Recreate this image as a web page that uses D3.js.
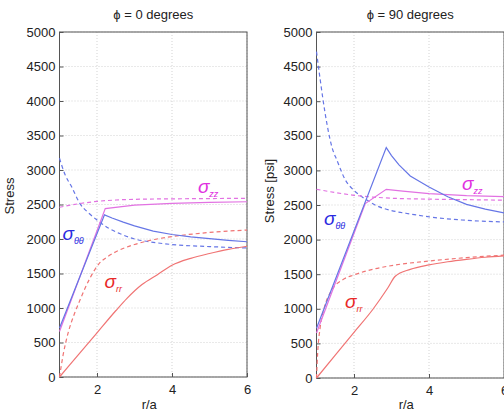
<!DOCTYPE html>
<html>
<head>
<meta charset="utf-8">
<script src="https://cdn.jsdelivr.net/npm/d3@7"></script>
<style>
  body { margin: 0; background: #fff; }
  text { font-family: "Liberation Sans", Arial, sans-serif; fill: #222; }
</style>
</head>
<body>
<svg id="chart" width="504" height="413"></svg>
<script>
// axis ticks
const rTicks = [2, 4, 6];
const stressTicks = [0, 500, 1000, 1500, 2000, 2500, 3000, 3500, 4000, 4500, 5000];

// phi = 0 degrees, [r/a, stress]
const p0_thetaElastic = [[1,3170],[1.15,2930],[1.32,2760],[1.55,2510],[1.75,2390],[2,2275],[2.3,2160],[2.6,2080],[3,2000],[3.4,1960],[4,1920],[5,1890],[6,1870]];
const p0_thetaPlastic = [[1,710],[2.2,2350],[2.4,2305],[2.7,2245],[3,2190],[3.5,2115],[4,2065],[4.5,2030],[5,2005],[5.5,1980],[6,1960]];
const p0_zzElastic    = [[1,2460],[1.5,2510],[2,2545],[2.5,2565],[3,2575],[4,2582],[5,2586],[6,2590]];
const p0_zzPlastic    = [[1,660],[2.22,2440],[3,2490],[4,2515],[5,2530],[6,2540]];
const p0_rrElastic    = [[1,0],[1.1,330],[1.23,640],[1.4,920],[1.55,1120],[1.8,1420],[2.05,1640],[2.3,1750],[2.6,1840],[3,1920],[3.5,1990],[4,2035],[5,2095],[6,2130]];
const p0_rrPlastic    = [[1,0],[1.5,320],[2,640],[2.5,960],[2.8,1140],[3.2,1340],[3.6,1480],[4,1620],[4.5,1720],[5,1790],[5.5,1850],[6,1895]];

// phi = 90 degrees
const p90_thetaElastic = [[1,4716],[1.1,4306],[1.23,3825],[1.41,3340],[1.55,3140],[1.77,2861],[2,2710],[2.21,2620],[2.66,2476],[3,2420],[3.5,2370],[3.97,2331],[4.88,2283],[6,2255]];
const p90_thetaPlastic = [[1,720],[2.86,3330],[3,3215],[3.2,3080],[3.5,2920],[4,2760],[4.5,2620],[5,2510],[5.5,2440],[6,2385]];
const p90_zzElastic    = [[1,2727],[1.5,2680],[2,2640],[2.5,2615],[3,2598],[4,2585],[5,2577],[6,2570]];
const p90_zzPlastic    = [[1,650],[1.59,1500],[2.3,2520],[2.86,2727],[3.3,2700],[4,2665],[5,2635],[6,2620]];
const p90_rrElastic    = [[1,0],[1.03,350],[1.1,740],[1.2,1000],[1.41,1272],[1.7,1420],[2,1490],[2.5,1570],[3.1,1633],[4,1690],[5,1740],[6,1775]];
const p90_rrPlastic    = [[1,0],[1.5,330],[2,660],[2.5,990],[2.9,1300],[3.1,1470],[3.5,1570],[4,1635],[4.5,1680],[5,1715],[5.5,1745],[6,1765]];

const lineColors = { theta: "#6676e6", zz: "#e272e2", rr: "#f07474" };
const labelColors = { theta: "#2a2ae0", zz: "#e030e0", rr: "#e82828" };

const svg = d3.select("#chart");

function drawPanel(cfg) {
    const x = d3.scaleLinear().domain([1, 6]).range([cfg.left, cfg.right]);
    const y = d3.scaleLinear().domain([0, 5000]).range([cfg.bottom, cfg.top]);
    const g = svg.append("g");

    // grid
    g.selectAll(".gx").data(rTicks).join("line")
        .attr("x1", d => x(d)).attr("x2", d => x(d))
        .attr("y1", cfg.top).attr("y2", cfg.bottom)
        .attr("stroke", "#c8c8c8").attr("stroke-width", 0.8).attr("stroke-dasharray", "1,2");
    g.selectAll(".gy").data(stressTicks).join("line")
        .attr("x1", cfg.left).attr("x2", cfg.right)
        .attr("y1", d => y(d)).attr("y2", d => y(d))
        .attr("stroke", "#c8c8c8").attr("stroke-width", 0.8).attr("stroke-dasharray", "1,2");

    // axes
    const ax = g.append("g").attr("transform", `translate(0,${cfg.bottom})`)
        .call(d3.axisBottom(x).tickValues(rTicks).tickFormat(d3.format("d")).tickSize(-4).tickPadding(8));
    const ay = g.append("g").attr("transform", `translate(${cfg.left},0)`)
        .call(d3.axisLeft(y).tickValues(stressTicks).tickFormat(d3.format("d")).tickSize(-4).tickPadding(4));
    [ax, ay].forEach(a => {
        a.select(".domain").remove();
        a.selectAll("line").attr("stroke", "#555");
        a.selectAll("text").attr("font-size", 13).attr("fill", "#222")
            .style("font-family", "'Liberation Sans', Arial, sans-serif");
    });

    // box
    g.append("rect")
        .attr("x", cfg.left).attr("y", cfg.top)
        .attr("width", cfg.right - cfg.left).attr("height", cfg.bottom - cfg.top)
        .attr("fill", "none").attr("stroke", "#555").attr("stroke-width", 1);

    // curves: smooth ones monotone, the ones with a yield kink straight
    const smoothLine = d3.line().x(d => x(d[0])).y(d => y(d[1])).curve(d3.curveMonotoneX);
    const kinkLine = d3.line().x(d => x(d[0])).y(d => y(d[1]));
    cfg.series.forEach(s => {
        g.append("path").datum(s.data)
            .attr("d", s.kink ? kinkLine : smoothLine)
            .attr("fill", "none")
            .attr("stroke", lineColors[s.kind])
            .attr("stroke-width", 1.2)
            .attr("stroke-dasharray", s.dashed ? "4,3" : null);
    });

    // sigma labels
    cfg.labels.forEach(l => {
        const t = g.append("text")
            .attr("x", x(l.at[0])).attr("y", y(l.at[1]))
            .style("fill", labelColors[l.kind])
            .attr("font-style", "italic");
        t.append("tspan").attr("font-size", 19).text("σ");
        t.append("tspan").attr("font-size", 9).attr("dy", 4).text(l.sub);
    });

    // title and axis labels
    g.append("text").attr("x", (cfg.left + cfg.right) / 2).attr("y", 19)
        .attr("text-anchor", "middle").attr("font-size", 13).text(cfg.title);
    g.append("text").attr("x", (cfg.left + cfg.right) / 2 - 4).attr("y", 409)
        .attr("text-anchor", "middle").attr("font-size", 13).text("r/a");
    g.append("text")
        .attr("transform", `translate(${cfg.ylabelX},${cfg.ylabelY}) rotate(-90)`)
        .attr("text-anchor", "middle").attr("font-size", 13).text(cfg.ylabel);
}

drawPanel({
    title: "ϕ = 0 degrees", ylabel: "Stress",
    left: 59.5, right: 247, top: 32, bottom: 377, ylabelX: 14, ylabelY: 196,
    series: [
        { data: p0_thetaElastic, kind: "theta", dashed: true },
        { data: p0_zzElastic, kind: "zz", dashed: true },
        { data: p0_rrElastic, kind: "rr", dashed: true },
        { data: p0_rrPlastic, kind: "rr" },
        { data: p0_zzPlastic, kind: "zz", kink: true },
        { data: p0_thetaPlastic, kind: "theta", kink: true }
    ],
    labels: [
        { kind: "theta", sub: "θθ", at: [1.08, 1990] },
        { kind: "zz", sub: "zz", at: [4.69, 2667] },
        { kind: "rr", sub: "rr", at: [2.2, 1290] }
    ]
});

drawPanel({
    title: "ϕ = 90 degrees", ylabel: "Stress [psi]",
    left: 316.5, right: 504, top: 32, bottom: 378, ylabelX: 274, ylabelY: 191,
    series: [
        { data: p90_thetaElastic, kind: "theta", dashed: true },
        { data: p90_zzElastic, kind: "zz", dashed: true },
        { data: p90_rrElastic, kind: "rr", dashed: true },
        { data: p90_rrPlastic, kind: "rr" },
        { data: p90_zzPlastic, kind: "zz", kink: true },
        { data: p90_thetaPlastic, kind: "theta", kink: true }
    ],
    labels: [
        { kind: "theta", sub: "θθ", at: [1.2, 2211] },
        { kind: "zz", sub: "zz", at: [4.88, 2717] },
        { kind: "rr", sub: "rr", at: [1.76, 1012] }
    ]
});
</script>
</body>
</html>
